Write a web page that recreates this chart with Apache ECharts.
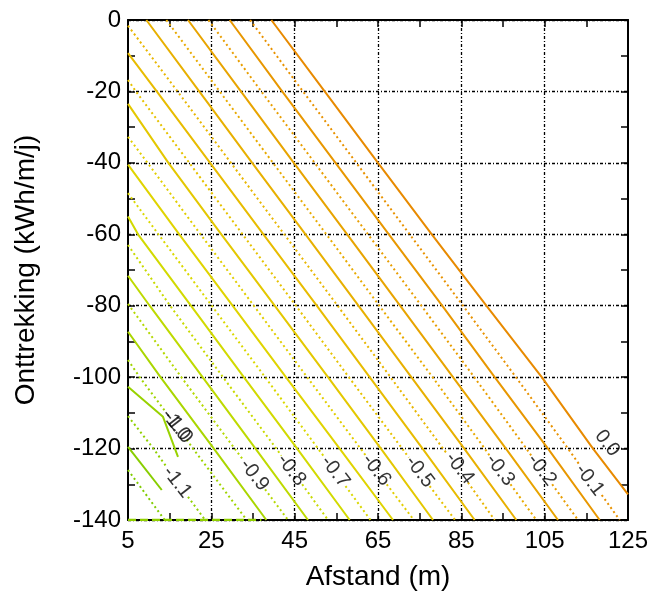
<!DOCTYPE html>
<html>
<head>
<meta charset="utf-8">
<script src="https://cdn.jsdelivr.net/npm/echarts@6/dist/echarts.min.js"></script>
<style>
  html, body { margin: 0; padding: 0; background: #fff; }
  #chart { width: 655px; height: 598px; }
</style>
</head>
<body>
<div id="chart"></div>
<script>
// Axis ticks and labels
const xLabelTicks = [5, 25, 45, 65, 85, 105, 125];
const xAllTicks = [5, 15, 25, 35, 45, 55, 65, 75, 85, 95, 105, 115, 125];
const xGridTicks = [25, 45, 65, 85, 105];
const yMin = -140, yMax = 0, yStep = 20;

// Solid contour set, [afstand, onttrekking]
const s00 = [[39.4, 0], [52.2, -20], [65.0, -40], [77.9, -60], [91.0, -80], [104.3, -100], [116.6, -120], [125, -132.8]];
const s01 = [[29.4, 0], [42.0, -20], [54.8, -40], [67.6, -60], [80.4, -80], [93.0, -100], [105.8, -120], [118.2, -140]];
const s02 = [[19.4, 0], [32.1, -20], [44.8, -40], [57.6, -60], [70.3, -80], [83.0, -100], [95.7, -120], [108.2, -140]];
const s03 = [[9.4, 0], [22.1, -20], [34.8, -40], [47.6, -60], [60.3, -80], [73.0, -100], [85.7, -120], [98.2, -140]];
const s04 = [[5, -9.3], [11.9, -20], [24.7, -40], [37.5, -60], [50.3, -80], [63.0, -100], [75.7, -120], [88.2, -140]];
const s05 = [[5, -23.5], [14.7, -40], [27.4, -60], [40.2, -80], [53.0, -100], [65.7, -120], [78.2, -140]];
const s06 = [[5, -40.5], [17.3, -60], [30.1, -80], [42.9, -100], [55.8, -120], [68.6, -140]];
const s07 = [[5, -55.0], [7.4, -60], [20.1, -80], [32.8, -100], [45.6, -120], [58.2, -140]];
const s08 = [[5, -71.6], [10.2, -80], [22.9, -100], [35.6, -120], [48.2, -140]];
const s09 = [[5, -87.3], [12.8, -100], [25.6, -120], [38.2, -140]];
const s10 = [[5, -102.7], [13.4, -111.1], [17.0, -122.3]];
const s11 = [[5, -119.5], [13.1, -131.6]];

// Dotted contour set; null marks the break under a label
const d01 = [[34.3, 0], [47.0, -20], [59.8, -40], [72.6, -60], [85.4, -80], [98.1, -100], [110.6, -120], [113.4, -124.6], null, [118.7, -133.0], [123.0, -140]];
const d02 = [[24.3, 0], [37.0, -20], [49.8, -40], [62.6, -60], [75.4, -80], [88.1, -100], [100.6, -120], [101.8, -122.0], null, [106.8, -130.0], [113.0, -140]];
const d03 = [[14.2, 0], [27.0, -20], [39.8, -40], [52.6, -60], [65.3, -80], [78.1, -100], [90.6, -120], [91.8, -122.0], null, [96.8, -130.0], [103.0, -140]];
const d04 = [[5, -1.6], [16.9, -20], [29.7, -40], [42.5, -60], [55.3, -80], [68.0, -100], [80.6, -120], [81.6, -121.5], null, [86.6, -129.5], [93.0, -140]];
const d05 = [[5, -16.8], [6.9, -20], [19.7, -40], [32.5, -60], [45.3, -80], [58.0, -100], [70.8, -120], [72.4, -122.5], null, [77.4, -130.5], [83.5, -140]];
const d06 = [[5, -32.7], [9.7, -40], [22.4, -60], [35.2, -80], [48.0, -100], [60.8, -120], [62.1, -122.0], null, [67.1, -130.0], [73.6, -140]];
const d07 = [[5, -48.5], [12.3, -60], [25.1, -80], [37.9, -100], [50.6, -120], [52.2, -122.5], null, [57.2, -130.5], [63.2, -140]];
const d08 = [[5, -63.0], [15.1, -80], [27.8, -100], [40.6, -120], [41.8, -122.0], null, [46.8, -130.0], [53.0, -140]];
const d09 = [[5, -79.5], [17.8, -100], [30.6, -120], [32.8, -123.4], null, [37.9, -131.4], [43.4, -140]];
const d10 = [[5, -95.2], [7.8, -100], [13.9, -109.5], null, [19.1, -117.5], [20.6, -120], [33.5, -140]];
const d11 = [[5, -110.9], [11.1, -120], [14.3, -125.2], null, [19.4, -133.5], [23.5, -140]];
const d12 = [[5, -126.0], [13.8, -140]];
const bottomEdge = [[5, -140], [37, -140]];

const solidLines = [s00, s01, s02, s03, s04, s05, s06, s07, s08, s09, s10, s11];
const solidColors = ['#E88A00', '#E89700', '#E8A400', '#E8B000', '#E8BC00', '#E4C800',
                     '#E0D400', '#D2DA00', '#BEDA00', '#AAD600', '#98D200', '#88CE00'];
const dottedLines = [d01, d02, d03, d04, d05, d06, d07, d08, d09, d10, d11, d12];
const dottedColors = ['#E89200', '#E89E00', '#E8AA00', '#E8B600', '#E6C200', '#E2CE00',
                      '#DAD800', '#C8DA00', '#B4D800', '#A0D400', '#90D000', '#80CC00'];

// Level labels: [afstand, onttrekking, text]
const levelLabels = [
  [120.0, -118.5, '0.0'], [115.8, -128.8, '-0.1'], [104.3, -126.0, '-0.2'],
  [94.3, -126.0, '-0.3'], [84.6, -125.5, '-0.4'], [75.0, -126.5, '-0.5'],
  [64.6, -126.0, '-0.6'], [54.7, -126.5, '-0.7'], [44.2, -126.0, '-0.8'],
  [35.3, -127.4, '-0.9'], [16.5, -113.4, '-1.0'], [17.0, -114.1, '-1.0'],
  [16.8, -129.4, '-1.1']
];

const FONT = 'Liberation Sans, Arial, sans-serif';
const axisLineStyle = { color: '#000', width: 2 };
const tickStyle = { color: '#000', width: 1.5 };
const gridStyle = { color: '#000', width: 1.3, type: [3, 2, 1, 2] };

// Split a polyline at null entries so each piece becomes its own series
function pieces(pts) {
  const out = [];
  let cur = [];
  pts.forEach(p => {
    if (p === null) { if (cur.length) out.push(cur); cur = []; }
    else cur.push(p);
  });
  if (cur.length) out.push(cur);
  return out;
}

const series = [];
solidLines.forEach((pts, i) => {
  pieces(pts).forEach(seg => series.push({
    type: 'line', data: seg, showSymbol: false, silent: true, animation: false,
    lineStyle: { color: solidColors[i], width: 2, type: 'solid' }, z: 3
  }));
});
dottedLines.forEach((pts, i) => {
  pieces(pts).forEach(seg => series.push({
    type: 'line', data: seg, showSymbol: false, silent: true, animation: false,
    lineStyle: { color: dottedColors[i], width: 2, type: [2, 3] }, z: 3
  }));
});
series.push({
  type: 'line', data: bottomEdge, showSymbol: false, silent: true, animation: false,
  lineStyle: { color: '#90D000', width: 2.5, type: [8, 4] }, z: 4
});
series.push({
  type: 'scatter', data: levelLabels, symbolSize: 0, silent: true, animation: false, z: 5,
  label: {
    show: true, position: 'inside', rotate: -52,
    formatter: p => p.data[2], color: '#000', fontSize: 20, fontFamily: FONT
  }
});

const chart = echarts.init(document.getElementById('chart'), null, { renderer: 'canvas' });
chart.setOption({
  backgroundColor: '#fff',
  animation: false,
  grid: { left: 128, top: 20, width: 500, height: 500, containLabel: false },
  xAxis: [
    {
      type: 'value', position: 'bottom', min: 5, max: 125,
      axisLine: { show: true, onZero: false, lineStyle: axisLineStyle },
      axisTick: { show: true, inside: true, length: 7, customValues: xAllTicks, lineStyle: tickStyle },
      axisLabel: { customValues: xLabelTicks, color: '#000', fontSize: 24, fontFamily: FONT, margin: 9 },
      splitLine: { show: false },
      name: 'Afstand (m)', nameLocation: 'middle', nameGap: 43,
      nameTextStyle: { color: '#000', fontSize: 28, fontFamily: FONT }
    },
    {
      type: 'value', position: 'top', min: 5, max: 125,
      axisLine: { show: true, onZero: false, lineStyle: axisLineStyle },
      axisTick: { show: true, inside: true, length: 7, customValues: xAllTicks, lineStyle: tickStyle },
      axisLabel: { show: false }, splitLine: { show: false }
    },
    {
      type: 'value', position: 'bottom', min: 5, max: 125,
      axisLine: { show: false },
      axisTick: { show: false, customValues: xGridTicks },
      axisLabel: { show: false },
      splitLine: { show: true, lineStyle: gridStyle }
    }
  ],
  yAxis: [
    {
      type: 'value', position: 'left', min: yMin, max: yMax, interval: yStep,
      axisLine: { show: true, onZero: false, lineStyle: axisLineStyle },
      axisTick: { show: true, inside: true, length: 7, lineStyle: tickStyle },
      minorTick: { show: true, splitNumber: 2, length: 7, lineStyle: tickStyle },
      axisLabel: { color: '#000', fontSize: 24, fontFamily: FONT, margin: 7 },
      splitLine: { show: true, lineStyle: gridStyle },
      name: 'Onttrekking (kWh/m/j)', nameLocation: 'middle', nameGap: 88,
      nameTextStyle: { color: '#000', fontSize: 28, fontFamily: FONT }
    },
    {
      type: 'value', position: 'right', min: yMin, max: yMax, interval: yStep,
      axisLine: { show: true, onZero: false, lineStyle: axisLineStyle },
      axisTick: { show: true, inside: true, length: 7, lineStyle: tickStyle },
      minorTick: { show: true, splitNumber: 2, length: 7, lineStyle: tickStyle },
      axisLabel: { show: false }, splitLine: { show: false }
    }
  ],
  series: series
});
</script>
</body>
</html>
